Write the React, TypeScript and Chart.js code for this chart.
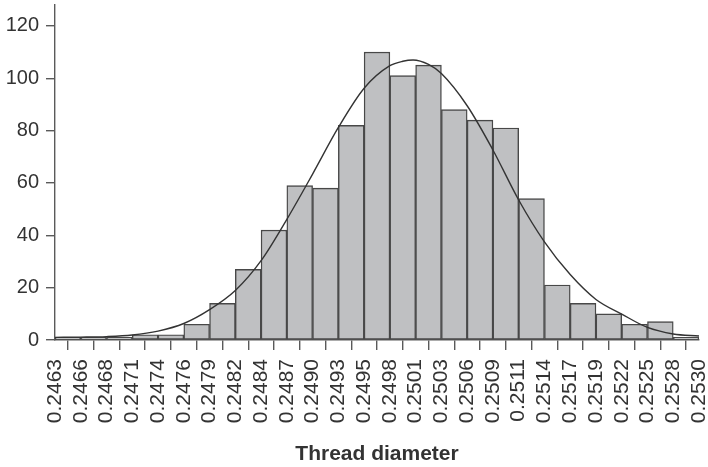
import { useEffect, useRef } from "react";
import { Chart, registerables } from "chart.js";

Chart.register(...registerables);

// Bin edges of the thread-diameter histogram (labels on the x axis)
const binEdges = [
  "0.2463", "0.2466", "0.2468", "0.2471", "0.2474", "0.2476", "0.2479",
  "0.2482", "0.2484", "0.2487", "0.2490", "0.2493", "0.2495", "0.2498",
  "0.2501", "0.2503", "0.2506", "0.2509", "0.2511", "0.2514", "0.2517",
  "0.2519", "0.2522", "0.2525", "0.2528", "0.2530",
];

// Frequency of each bin (25 bins between the 26 edges)
const counts = [
  1, 1, 1, 2, 2, 6, 14, 27, 42, 59, 58, 82, 110, 101, 105, 88, 84, 81, 54,
  21, 14, 10, 6, 7, 1,
];

// Fitted normal curve, sampled at bin positions (in bin-index units)
const curveX = [
  0, 1, 2, 3, 4, 5, 6, 7, 8, 9, 10, 11, 12, 13, 13.5, 13.9, 14.5, 15, 16, 17,
  18, 19, 20, 21, 22, 23, 24, 25,
];
const curveY = [
  1.0, 1.1, 1.3, 1.9, 3.4, 6.3, 11.6, 18.9, 30.3, 46.1, 63.4, 81.2, 96.2,
  104.8, 106.5, 107.0, 105.3, 101.8, 89.5, 72.6, 53.5, 37.5, 25.0, 15.5, 9.9,
  4.8, 2.3, 1.5,
];

const yTicks = [0, 20, 40, 60, 80, 100, 120];

const FONT = "'Liberation Sans', Arial, Helvetica, sans-serif";
const TEXT = "#333333";
const AXIS = "#5a5a5a";

export default function App() {
  const canvasRef = useRef<HTMLCanvasElement>(null);

  useEffect(() => {
    document.body.style.margin = "0";
    const canvas = canvasRef.current;
    if (!canvas) return;

    const chart = new Chart(canvas, {
      type: "bar",
      data: {
        datasets: [
          {
            type: "line",
            data: curveX.map((x, i) => ({ x, y: curveY[i] })),
            borderColor: "#333333",
            borderWidth: 1.4,
            pointRadius: 0,
            cubicInterpolationMode: "monotone",
            fill: false,
            order: 0,
          } as any,
          {
            type: "bar",
            data: counts.map((c, i) => ({ x: i + 0.5, y: c })),
            backgroundColor: "#bfc0c2",
            borderColor: "#484848",
            borderWidth: 1.4,
            borderSkipped: false,
            barPercentage: 1,
            categoryPercentage: 1,
            order: 1,
          } as any,
        ],
      },
      options: {
        animation: false,
        responsive: false,
        layout: { padding: { top: 5, right: 9, left: 0, bottom: 0 } },
        plugins: {
          legend: { display: false },
          tooltip: { enabled: false },
        },
        scales: {
          x: {
            type: "linear",
            min: 0,
            max: binEdges.length - 1,
            offset: false,
            afterBuildTicks: (scale: any) => {
              scale.ticks = binEdges.map((_, i) => ({ value: i }));
            },
            afterFit: (scale: any) => {
              scale.height = 127;
              scale.paddingLeft = 0;
              scale.paddingRight = 0;
            },
            ticks: {
              autoSkip: false,
              minRotation: 90,
              maxRotation: 90,
              padding: 9,
              color: TEXT,
              font: { family: FONT, size: 21 },
              callback: (v: any) => binEdges[Math.round(Number(v))] ?? "",
            },
            grid: {
              drawOnChartArea: false,
              drawTicks: true,
              tickLength: 10,
              color: AXIS,
              lineWidth: 1.4,
            },
            border: { display: true, color: AXIS, width: 1.4 },
            title: {
              display: true,
              text: "Thread diameter",
              color: TEXT,
              font: { family: FONT, size: 21, weight: "bold" },
              padding: { top: 0, bottom: 0 },
            },
          },
          y: {
            type: "linear",
            min: 0,
            max: 128,
            afterBuildTicks: (scale: any) => {
              scale.ticks = yTicks.map((v) => ({ value: v }));
            },
            afterFit: (scale: any) => {
              scale.width = 55;
              scale.paddingTop = 0;
              scale.paddingBottom = 0;
            },
            ticks: {
              padding: 7,
              color: TEXT,
              font: { family: FONT, size: 20 },
            },
            grid: {
              drawOnChartArea: false,
              drawTicks: true,
              tickLength: 9,
              color: AXIS,
              lineWidth: 1.4,
            },
            border: { display: true, color: AXIS, width: 1.4 },
          },
        },
      },
    });

    return () => chart.destroy();
  }, []);

  return (
    <canvas
      ref={canvasRef}
      width={708}
      height={467}
      style={{ display: "block", width: 708, height: 467 }}
    />
  );
}
